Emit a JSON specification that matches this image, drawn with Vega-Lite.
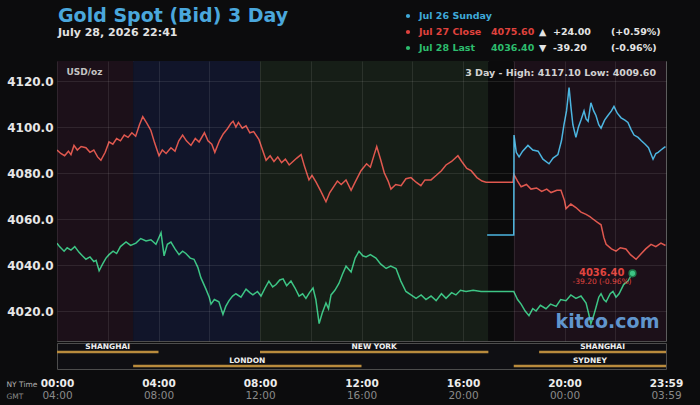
{
  "$schema": "https://vega.github.io/schema/vega-lite/v6.json",
  "background": "#0c0c0d",
  "padding": {"left": 5, "top": 0, "right": 20, "bottom": 5},
  "spacing": 0,
  "config": {
    "font": "DejaVu Sans",
    "view": {"stroke": null},
    "axis": {"labelFont": "DejaVu Sans", "titleFont": "DejaVu Sans"},
    "title": {"font": "DejaVu Sans", "subtitleFont": "DejaVu Sans"}
  },
  "datasets": {
    "prices": [
      {"series":"Jul 27 Close","h":0.00,"v":4090.0},{"series":"Jul 27 Close","h":0.15,"v":4088.5},{"series":"Jul 27 Close","h":0.30,"v":4087.5},{"series":"Jul 27 Close","h":0.45,"v":4089.5},{"series":"Jul 27 Close","h":0.55,"v":4088.0},{"series":"Jul 27 Close","h":0.67,"v":4092.0},{"series":"Jul 27 Close","h":0.80,"v":4090.0},{"series":"Jul 27 Close","h":0.95,"v":4091.5},{"series":"Jul 27 Close","h":1.14,"v":4091.0},{"series":"Jul 27 Close","h":1.30,"v":4089.0},{"series":"Jul 27 Close","h":1.45,"v":4090.0},{"series":"Jul 27 Close","h":1.60,"v":4087.0},{"series":"Jul 27 Close","h":1.73,"v":4085.5},{"series":"Jul 27 Close","h":1.90,"v":4089.0},{"series":"Jul 27 Close","h":2.05,"v":4093.5},{"series":"Jul 27 Close","h":2.20,"v":4092.5},{"series":"Jul 27 Close","h":2.35,"v":4095.0},{"series":"Jul 27 Close","h":2.50,"v":4094.0},{"series":"Jul 27 Close","h":2.65,"v":4096.5},{"series":"Jul 27 Close","h":2.80,"v":4095.5},{"series":"Jul 27 Close","h":2.95,"v":4097.5},{"series":"Jul 27 Close","h":3.10,"v":4096.0},{"series":"Jul 27 Close","h":3.25,"v":4101.0},{"series":"Jul 27 Close","h":3.38,"v":4104.5},{"series":"Jul 27 Close","h":3.55,"v":4101.5},{"series":"Jul 27 Close","h":3.70,"v":4098.5},{"series":"Jul 27 Close","h":3.85,"v":4093.0},{"series":"Jul 27 Close","h":4.02,"v":4087.5},{"series":"Jul 27 Close","h":4.15,"v":4090.0},{"series":"Jul 27 Close","h":4.30,"v":4088.5},{"series":"Jul 27 Close","h":4.49,"v":4091.0},{"series":"Jul 27 Close","h":4.65,"v":4089.5},{"series":"Jul 27 Close","h":4.80,"v":4094.0},{"series":"Jul 27 Close","h":4.95,"v":4096.5},{"series":"Jul 27 Close","h":5.10,"v":4094.0},{"series":"Jul 27 Close","h":5.28,"v":4092.0},{"series":"Jul 27 Close","h":5.45,"v":4095.0},{"series":"Jul 27 Close","h":5.60,"v":4093.5},{"series":"Jul 27 Close","h":5.81,"v":4097.5},{"series":"Jul 27 Close","h":5.95,"v":4094.0},{"series":"Jul 27 Close","h":6.10,"v":4092.5},{"series":"Jul 27 Close","h":6.22,"v":4089.0},{"series":"Jul 27 Close","h":6.40,"v":4094.0},{"series":"Jul 27 Close","h":6.55,"v":4097.0},{"series":"Jul 27 Close","h":6.70,"v":4099.0},{"series":"Jul 27 Close","h":6.85,"v":4101.5},{"series":"Jul 27 Close","h":6.94,"v":4102.5},{"series":"Jul 27 Close","h":7.05,"v":4100.0},{"series":"Jul 27 Close","h":7.15,"v":4102.0},{"series":"Jul 27 Close","h":7.30,"v":4099.5},{"series":"Jul 27 Close","h":7.45,"v":4100.5},{"series":"Jul 27 Close","h":7.60,"v":4097.5},{"series":"Jul 27 Close","h":7.75,"v":4098.0},{"series":"Jul 27 Close","h":7.96,"v":4094.5},{"series":"Jul 27 Close","h":8.10,"v":4090.0},{"series":"Jul 27 Close","h":8.24,"v":4085.5},{"series":"Jul 27 Close","h":8.40,"v":4087.5},{"series":"Jul 27 Close","h":8.55,"v":4085.0},{"series":"Jul 27 Close","h":8.70,"v":4087.0},{"series":"Jul 27 Close","h":8.85,"v":4084.5},{"series":"Jul 27 Close","h":9.00,"v":4086.0},{"series":"Jul 27 Close","h":9.15,"v":4083.5},{"series":"Jul 27 Close","h":9.30,"v":4085.0},{"series":"Jul 27 Close","h":9.45,"v":4086.5},{"series":"Jul 27 Close","h":9.62,"v":4088.0},{"series":"Jul 27 Close","h":9.75,"v":4083.0},{"series":"Jul 27 Close","h":9.93,"v":4077.0},{"series":"Jul 27 Close","h":10.05,"v":4079.0},{"series":"Jul 27 Close","h":10.21,"v":4076.0},{"series":"Jul 27 Close","h":10.40,"v":4072.0},{"series":"Jul 27 Close","h":10.60,"v":4067.5},{"series":"Jul 27 Close","h":10.75,"v":4071.5},{"series":"Jul 27 Close","h":10.90,"v":4074.0},{"series":"Jul 27 Close","h":11.05,"v":4076.5},{"series":"Jul 27 Close","h":11.20,"v":4075.0},{"series":"Jul 27 Close","h":11.39,"v":4077.0},{"series":"Jul 27 Close","h":11.59,"v":4072.5},{"series":"Jul 27 Close","h":11.75,"v":4076.0},{"series":"Jul 27 Close","h":11.98,"v":4081.0},{"series":"Jul 27 Close","h":12.20,"v":4084.0},{"series":"Jul 27 Close","h":12.35,"v":4082.5},{"series":"Jul 27 Close","h":12.50,"v":4088.0},{"series":"Jul 27 Close","h":12.60,"v":4091.5},{"series":"Jul 27 Close","h":12.75,"v":4086.0},{"series":"Jul 27 Close","h":12.90,"v":4080.0},{"series":"Jul 27 Close","h":13.05,"v":4076.5},{"series":"Jul 27 Close","h":13.16,"v":4073.0},{"series":"Jul 27 Close","h":13.35,"v":4075.0},{"series":"Jul 27 Close","h":13.56,"v":4074.5},{"series":"Jul 27 Close","h":13.75,"v":4077.5},{"series":"Jul 27 Close","h":13.95,"v":4078.0},{"series":"Jul 27 Close","h":14.15,"v":4076.0},{"series":"Jul 27 Close","h":14.34,"v":4074.5},{"series":"Jul 27 Close","h":14.50,"v":4077.0},{"series":"Jul 27 Close","h":14.74,"v":4077.0},{"series":"Jul 27 Close","h":14.95,"v":4079.0},{"series":"Jul 27 Close","h":15.15,"v":4081.0},{"series":"Jul 27 Close","h":15.33,"v":4083.5},{"series":"Jul 27 Close","h":15.55,"v":4085.0},{"series":"Jul 27 Close","h":15.80,"v":4087.5},{"series":"Jul 27 Close","h":15.95,"v":4085.0},{"series":"Jul 27 Close","h":16.15,"v":4082.0},{"series":"Jul 27 Close","h":16.32,"v":4081.0},{"series":"Jul 27 Close","h":16.55,"v":4078.0},{"series":"Jul 27 Close","h":16.75,"v":4076.5},{"series":"Jul 27 Close","h":16.91,"v":4076.0},{"series":"Jul 27 Close","h":17.97,"v":4076.0},{"series":"Jul 27 Close","h":18.00,"v":4079.5},{"series":"Jul 27 Close","h":18.15,"v":4076.5},{"series":"Jul 27 Close","h":18.29,"v":4074.0},{"series":"Jul 27 Close","h":18.50,"v":4075.0},{"series":"Jul 27 Close","h":18.68,"v":4073.0},{"series":"Jul 27 Close","h":18.90,"v":4073.5},{"series":"Jul 27 Close","h":19.10,"v":4072.0},{"series":"Jul 27 Close","h":19.30,"v":4073.0},{"series":"Jul 27 Close","h":19.47,"v":4071.5},{"series":"Jul 27 Close","h":19.70,"v":4072.5},{"series":"Jul 27 Close","h":19.86,"v":4072.5},{"series":"Jul 27 Close","h":20.00,"v":4068.0},{"series":"Jul 27 Close","h":20.06,"v":4064.5},{"series":"Jul 27 Close","h":20.25,"v":4066.5},{"series":"Jul 27 Close","h":20.45,"v":4065.0},{"series":"Jul 27 Close","h":20.65,"v":4063.0},{"series":"Jul 27 Close","h":20.85,"v":4062.0},{"series":"Jul 27 Close","h":21.00,"v":4061.0},{"series":"Jul 27 Close","h":21.12,"v":4060.0},{"series":"Jul 27 Close","h":21.30,"v":4058.5},{"series":"Jul 27 Close","h":21.44,"v":4057.5},{"series":"Jul 27 Close","h":21.55,"v":4052.0},{"series":"Jul 27 Close","h":21.64,"v":4049.0},{"series":"Jul 27 Close","h":21.85,"v":4047.0},{"series":"Jul 27 Close","h":22.03,"v":4046.0},{"series":"Jul 27 Close","h":22.20,"v":4047.5},{"series":"Jul 27 Close","h":22.42,"v":4047.0},{"series":"Jul 27 Close","h":22.60,"v":4044.5},{"series":"Jul 27 Close","h":22.82,"v":4042.5},{"series":"Jul 27 Close","h":23.03,"v":4045.0},{"series":"Jul 27 Close","h":23.20,"v":4047.0},{"series":"Jul 27 Close","h":23.41,"v":4049.0},{"series":"Jul 27 Close","h":23.60,"v":4048.0},{"series":"Jul 27 Close","h":23.80,"v":4049.5},{"series":"Jul 27 Close","h":23.98,"v":4048.5},
      {"series":"Jul 28 Last","h":0.00,"v":4049.5},{"series":"Jul 28 Last","h":0.10,"v":4048.0},{"series":"Jul 28 Last","h":0.28,"v":4046.0},{"series":"Jul 28 Last","h":0.40,"v":4047.5},{"series":"Jul 28 Last","h":0.55,"v":4046.5},{"series":"Jul 28 Last","h":0.70,"v":4048.0},{"series":"Jul 28 Last","h":0.87,"v":4045.5},{"series":"Jul 28 Last","h":1.00,"v":4044.0},{"series":"Jul 28 Last","h":1.14,"v":4042.5},{"series":"Jul 28 Last","h":1.30,"v":4043.5},{"series":"Jul 28 Last","h":1.45,"v":4041.5},{"series":"Jul 28 Last","h":1.54,"v":4042.0},{"series":"Jul 28 Last","h":1.66,"v":4037.5},{"series":"Jul 28 Last","h":1.80,"v":4040.5},{"series":"Jul 28 Last","h":1.93,"v":4043.0},{"series":"Jul 28 Last","h":2.05,"v":4044.5},{"series":"Jul 28 Last","h":2.21,"v":4046.0},{"series":"Jul 28 Last","h":2.35,"v":4045.0},{"series":"Jul 28 Last","h":2.50,"v":4048.0},{"series":"Jul 28 Last","h":2.72,"v":4050.0},{"series":"Jul 28 Last","h":2.90,"v":4048.5},{"series":"Jul 28 Last","h":3.11,"v":4049.5},{"series":"Jul 28 Last","h":3.30,"v":4051.5},{"series":"Jul 28 Last","h":3.51,"v":4050.5},{"series":"Jul 28 Last","h":3.70,"v":4051.0},{"series":"Jul 28 Last","h":3.90,"v":4049.0},{"series":"Jul 28 Last","h":4.10,"v":4054.0},{"series":"Jul 28 Last","h":4.22,"v":4044.0},{"series":"Jul 28 Last","h":4.35,"v":4049.0},{"series":"Jul 28 Last","h":4.49,"v":4050.0},{"series":"Jul 28 Last","h":4.65,"v":4047.0},{"series":"Jul 28 Last","h":4.81,"v":4044.5},{"series":"Jul 28 Last","h":4.95,"v":4046.0},{"series":"Jul 28 Last","h":5.08,"v":4045.0},{"series":"Jul 28 Last","h":5.25,"v":4043.0},{"series":"Jul 28 Last","h":5.40,"v":4042.5},{"series":"Jul 28 Last","h":5.55,"v":4039.0},{"series":"Jul 28 Last","h":5.67,"v":4034.5},{"series":"Jul 28 Last","h":5.87,"v":4029.5},{"series":"Jul 28 Last","h":6.00,"v":4026.0},{"series":"Jul 28 Last","h":6.07,"v":4023.0},{"series":"Jul 28 Last","h":6.20,"v":4025.0},{"series":"Jul 28 Last","h":6.38,"v":4024.0},{"series":"Jul 28 Last","h":6.54,"v":4018.5},{"series":"Jul 28 Last","h":6.65,"v":4022.0},{"series":"Jul 28 Last","h":6.78,"v":4024.5},{"series":"Jul 28 Last","h":6.92,"v":4026.5},{"series":"Jul 28 Last","h":7.05,"v":4027.5},{"series":"Jul 28 Last","h":7.25,"v":4026.0},{"series":"Jul 28 Last","h":7.45,"v":4029.5},{"series":"Jul 28 Last","h":7.60,"v":4028.0},{"series":"Jul 28 Last","h":7.72,"v":4027.0},{"series":"Jul 28 Last","h":7.90,"v":4028.5},{"series":"Jul 28 Last","h":8.04,"v":4026.5},{"series":"Jul 28 Last","h":8.20,"v":4030.0},{"series":"Jul 28 Last","h":8.35,"v":4033.0},{"series":"Jul 28 Last","h":8.50,"v":4030.5},{"series":"Jul 28 Last","h":8.63,"v":4031.5},{"series":"Jul 28 Last","h":8.78,"v":4033.5},{"series":"Jul 28 Last","h":8.91,"v":4034.0},{"series":"Jul 28 Last","h":9.05,"v":4031.0},{"series":"Jul 28 Last","h":9.22,"v":4033.0},{"series":"Jul 28 Last","h":9.38,"v":4030.0},{"series":"Jul 28 Last","h":9.54,"v":4026.5},{"series":"Jul 28 Last","h":9.68,"v":4027.5},{"series":"Jul 28 Last","h":9.81,"v":4025.5},{"series":"Jul 28 Last","h":9.95,"v":4028.0},{"series":"Jul 28 Last","h":10.09,"v":4030.0},{"series":"Jul 28 Last","h":10.20,"v":4025.0},{"series":"Jul 28 Last","h":10.33,"v":4014.5},{"series":"Jul 28 Last","h":10.45,"v":4019.0},{"series":"Jul 28 Last","h":10.60,"v":4023.5},{"series":"Jul 28 Last","h":10.70,"v":4021.0},{"series":"Jul 28 Last","h":10.80,"v":4027.0},{"series":"Jul 28 Last","h":10.95,"v":4029.0},{"series":"Jul 28 Last","h":11.11,"v":4032.0},{"series":"Jul 28 Last","h":11.25,"v":4036.0},{"series":"Jul 28 Last","h":11.39,"v":4039.5},{"series":"Jul 28 Last","h":11.59,"v":4037.0},{"series":"Jul 28 Last","h":11.75,"v":4043.0},{"series":"Jul 28 Last","h":11.90,"v":4046.0},{"series":"Jul 28 Last","h":12.05,"v":4044.0},{"series":"Jul 28 Last","h":12.18,"v":4043.5},{"series":"Jul 28 Last","h":12.35,"v":4044.5},{"series":"Jul 28 Last","h":12.57,"v":4043.0},{"series":"Jul 28 Last","h":12.75,"v":4040.5},{"series":"Jul 28 Last","h":12.97,"v":4038.5},{"series":"Jul 28 Last","h":13.15,"v":4039.5},{"series":"Jul 28 Last","h":13.36,"v":4038.5},{"series":"Jul 28 Last","h":13.55,"v":4033.0},{"series":"Jul 28 Last","h":13.75,"v":4028.5},{"series":"Jul 28 Last","h":13.95,"v":4027.0},{"series":"Jul 28 Last","h":14.15,"v":4025.5},{"series":"Jul 28 Last","h":14.35,"v":4027.0},{"series":"Jul 28 Last","h":14.54,"v":4025.0},{"series":"Jul 28 Last","h":14.74,"v":4026.5},{"series":"Jul 28 Last","h":14.94,"v":4024.5},{"series":"Jul 28 Last","h":15.15,"v":4027.5},{"series":"Jul 28 Last","h":15.33,"v":4025.5},{"series":"Jul 28 Last","h":15.55,"v":4028.0},{"series":"Jul 28 Last","h":15.72,"v":4027.0},{"series":"Jul 28 Last","h":15.90,"v":4029.0},{"series":"Jul 28 Last","h":16.12,"v":4028.5},{"series":"Jul 28 Last","h":16.40,"v":4029.0},{"series":"Jul 28 Last","h":16.71,"v":4028.5},{"series":"Jul 28 Last","h":18.00,"v":4028.5},{"series":"Jul 28 Last","h":18.15,"v":4025.0},{"series":"Jul 28 Last","h":18.29,"v":4023.0},{"series":"Jul 28 Last","h":18.45,"v":4020.0},{"series":"Jul 28 Last","h":18.60,"v":4018.0},{"series":"Jul 28 Last","h":18.75,"v":4021.0},{"series":"Jul 28 Last","h":18.88,"v":4020.0},{"series":"Jul 28 Last","h":19.05,"v":4022.5},{"series":"Jul 28 Last","h":19.27,"v":4021.0},{"series":"Jul 28 Last","h":19.45,"v":4023.0},{"series":"Jul 28 Last","h":19.67,"v":4022.0},{"series":"Jul 28 Last","h":19.85,"v":4025.0},{"series":"Jul 28 Last","h":20.06,"v":4024.5},{"series":"Jul 28 Last","h":20.25,"v":4027.0},{"series":"Jul 28 Last","h":20.45,"v":4025.5},{"series":"Jul 28 Last","h":20.65,"v":4026.5},{"series":"Jul 28 Last","h":20.85,"v":4023.5},{"series":"Jul 28 Last","h":20.95,"v":4019.0},{"series":"Jul 28 Last","h":21.04,"v":4014.5},{"series":"Jul 28 Last","h":21.15,"v":4018.0},{"series":"Jul 28 Last","h":21.24,"v":4021.5},{"series":"Jul 28 Last","h":21.35,"v":4026.0},{"series":"Jul 28 Last","h":21.44,"v":4027.5},{"series":"Jul 28 Last","h":21.55,"v":4025.0},{"series":"Jul 28 Last","h":21.64,"v":4024.0},{"series":"Jul 28 Last","h":21.80,"v":4027.5},{"series":"Jul 28 Last","h":21.91,"v":4028.5},{"series":"Jul 28 Last","h":22.03,"v":4026.0},{"series":"Jul 28 Last","h":22.15,"v":4027.5},{"series":"Jul 28 Last","h":22.33,"v":4031.5},{"series":"Jul 28 Last","h":22.50,"v":4033.0},{"series":"Jul 28 Last","h":22.60,"v":4035.0},{"series":"Jul 28 Last","h":22.68,"v":4036.4},
      {"series":"Jul 26 Sunday","h":16.95,"v":4053.0},{"series":"Jul 26 Sunday","h":18.00,"v":4053.0},{"series":"Jul 26 Sunday","h":18.01,"v":4096.5},{"series":"Jul 26 Sunday","h":18.10,"v":4089.0},{"series":"Jul 26 Sunday","h":18.21,"v":4087.0},{"series":"Jul 26 Sunday","h":18.35,"v":4089.5},{"series":"Jul 26 Sunday","h":18.56,"v":4092.0},{"series":"Jul 26 Sunday","h":18.75,"v":4090.0},{"series":"Jul 26 Sunday","h":18.96,"v":4089.5},{"series":"Jul 26 Sunday","h":19.15,"v":4086.0},{"series":"Jul 26 Sunday","h":19.39,"v":4084.0},{"series":"Jul 26 Sunday","h":19.55,"v":4086.5},{"series":"Jul 26 Sunday","h":19.74,"v":4088.0},{"series":"Jul 26 Sunday","h":19.88,"v":4094.0},{"series":"Jul 26 Sunday","h":19.98,"v":4101.0},{"series":"Jul 26 Sunday","h":20.08,"v":4107.0},{"series":"Jul 26 Sunday","h":20.18,"v":4117.1},{"series":"Jul 26 Sunday","h":20.26,"v":4108.0},{"series":"Jul 26 Sunday","h":20.33,"v":4101.0},{"series":"Jul 26 Sunday","h":20.45,"v":4095.5},{"series":"Jul 26 Sunday","h":20.55,"v":4100.0},{"series":"Jul 26 Sunday","h":20.65,"v":4103.0},{"series":"Jul 26 Sunday","h":20.77,"v":4107.0},{"series":"Jul 26 Sunday","h":20.85,"v":4103.5},{"series":"Jul 26 Sunday","h":20.93,"v":4102.5},{"series":"Jul 26 Sunday","h":21.04,"v":4110.5},{"series":"Jul 26 Sunday","h":21.15,"v":4107.0},{"series":"Jul 26 Sunday","h":21.24,"v":4105.0},{"series":"Jul 26 Sunday","h":21.35,"v":4101.0},{"series":"Jul 26 Sunday","h":21.44,"v":4099.5},{"series":"Jul 26 Sunday","h":21.58,"v":4103.0},{"series":"Jul 26 Sunday","h":21.71,"v":4105.0},{"series":"Jul 26 Sunday","h":21.85,"v":4107.0},{"series":"Jul 26 Sunday","h":21.95,"v":4109.0},{"series":"Jul 26 Sunday","h":22.08,"v":4106.0},{"series":"Jul 26 Sunday","h":22.23,"v":4104.0},{"series":"Jul 26 Sunday","h":22.38,"v":4103.0},{"series":"Jul 26 Sunday","h":22.50,"v":4102.0},{"series":"Jul 26 Sunday","h":22.62,"v":4099.0},{"series":"Jul 26 Sunday","h":22.74,"v":4096.5},{"series":"Jul 26 Sunday","h":22.90,"v":4095.5},{"series":"Jul 26 Sunday","h":23.03,"v":4094.0},{"series":"Jul 26 Sunday","h":23.18,"v":4092.5},{"series":"Jul 26 Sunday","h":23.31,"v":4091.0},{"series":"Jul 26 Sunday","h":23.49,"v":4086.0},{"series":"Jul 26 Sunday","h":23.60,"v":4088.5},{"series":"Jul 26 Sunday","h":23.69,"v":4089.0},{"series":"Jul 26 Sunday","h":23.80,"v":4090.0},{"series":"Jul 26 Sunday","h":23.92,"v":4091.0},{"series":"Jul 26 Sunday","h":23.98,"v":4091.5}
    ],
    "bands": [
      {"zone":"Asia","start":0,"end":3},
      {"zone":"London","start":3,"end":8},
      {"zone":"New York","start":8,"end":17},
      {"zone":"Closed","start":17,"end":18},
      {"zone":"Asia","start":18,"end":24}
    ],
    "sessions": [
      {"session":"SHANGHAI","start":0,"end":4,"lane":1},
      {"session":"LONDON","start":3,"end":12,"lane":2},
      {"session":"NEW YORK","start":8,"end":17,"lane":1},
      {"session":"SHANGHAI","start":19,"end":24,"lane":1},
      {"session":"SYDNEY","start":18,"end":24,"lane":2}
    ],
    "legendCells": [
      {"series":"Jul 26 Sunday","col":"name","text":"Jul 26 Sunday"},
      {"series":"Jul 27 Close","col":"name","text":"Jul 27 Close"},
      {"series":"Jul 27 Close","col":"close","text":"4075.60"},
      {"series":"Jul 27 Close","col":"chg","text":"▲\u00a0\u00a0+24.00"},
      {"series":"Jul 27 Close","col":"pct","text":"(+0.59%)"},
      {"series":"Jul 28 Last","col":"name","text":"Jul 28 Last"},
      {"series":"Jul 28 Last","col":"close","text":"4036.40"},
      {"series":"Jul 28 Last","col":"chg","text":"▼\u00a0\u00a0-39.20"},
      {"series":"Jul 28 Last","col":"pct","text":"(-0.96%)"}
    ],
    "last": [
      {"series":"Jul 28 Last","h":22.68,"v":4036.4,"label":"4036.40","change":"-39.20 (-0.96%)"}
    ]
  },
  "vconcat": [
    {
      "width": 609,
      "height": 60,
      "title": {
        "text": "Gold Spot (Bid) 3 Day",
        "subtitle": "July 28, 2026 22:41",
        "anchor": "start",
        "orient": "top",
        "frame": "group",
        "offset": -38,
        "dx": 1,
        "fontSize": 19,
        "fontWeight": "bold",
        "color": "#4aa7dc",
        "subtitleFontSize": 11,
        "subtitleFontWeight": "bold",
        "subtitleColor": "#e2e2e2",
        "subtitlePadding": 1
      },
      "layer": [
        {
          "data": {"name": "legendCells"},
          "transform": [{"filter": "datum.col === 'name'"}],
          "mark": {"type": "point", "shape": "circle", "filled": true, "size": 18, "opacity": 1, "xOffset": -11},
          "encoding": {
            "x": {"field": "col", "type": "ordinal", "scale": {"type": "point", "domain": ["name", "s1", "s2", "close", "s3", "chg", "s4", "s5", "pct"], "range": [362, 554], "padding": 0}, "axis": null},
            "y": {"field": "series", "type": "ordinal", "scale": {"type": "point", "domain": ["Jul 26 Sunday", "Jul 27 Close", "Jul 28 Last"], "range": [16, 48], "padding": 0}, "axis": null},
            "color": {"field": "series", "type": "nominal", "scale": {"domain": ["Jul 26 Sunday", "Jul 27 Close", "Jul 28 Last"], "range": ["#3fa9d8", "#e0423d", "#2dbd6e"]}, "legend": null}
          }
        },
        {
          "data": {"name": "legendCells"},
          "mark": {"type": "text", "align": "left", "baseline": "middle", "fontSize": 9.5, "fontWeight": "bold"},
          "encoding": {
            "x": {"field": "col", "type": "ordinal", "axis": null},
            "y": {"field": "series", "type": "ordinal", "axis": null},
            "text": {"field": "text"},
            "color": {
              "condition": {"test": "datum.col === 'name' || datum.col === 'close'", "field": "series", "type": "nominal", "legend": null},
              "value": "#e4e4e4"
            }
          }
        }
      ]
    },
    {
      "width": 609,
      "height": 280,
      "view": {"stroke": "#4d4d4d", "strokeWidth": 1},
      "resolve": {"scale": {"color": "independent"}},
      "title": {
        "text": "3 Day - High: 4117.10  Low: 4009.60",
        "anchor": "end",
        "orient": "top",
        "offset": -16,
        "dx": -10,
        "fontSize": 9.5,
        "fontWeight": "bold",
        "color": "#d2d2d2"
      },
      "layer": [
        {
          "data": {"name": "bands"},
          "mark": {"type": "rect"},
          "encoding": {
            "x": {
              "field": "start", "type": "quantitative",
              "scale": {"domain": [0, 24], "nice": false, "zero": false},
              "axis": {
                "values": [0, 2, 4, 6, 8, 10, 12, 14, 16, 18, 20, 22, 24],
                "labels": false, "ticks": false, "domain": false,
                "grid": true, "gridColor": "#ffffff", "gridOpacity": 0.09, "gridWidth": 1,
                "zindex": 1,
                "title": "kitco.com",
                "titleX": 550, "titleY": -20, "titleAlign": "center", "titleBaseline": "middle",
                "titleFontSize": 19, "titleFontWeight": "bold", "titleColor": "#6aa8e6", "titleOpacity": 0.9
              }
            },
            "x2": {"field": "end"},
            "color": {"field": "zone", "type": "nominal", "scale": {"domain": ["Asia", "London", "New York", "Closed"], "range": ["#1c1019", "#11152a", "#161e17", "#0b0b0c"]}, "legend": null}
          }
        },
        {
          "data": {"name": "prices"},
          "mark": {"type": "line", "strokeWidth": 1.5, "clip": true, "interpolate": "linear"},
          "encoding": {
            "x": {"field": "h", "type": "quantitative"},
            "y": {
              "field": "v", "type": "quantitative",
              "scale": {"domain": [4006.96, 4128.7], "nice": false, "zero": false},
              "axis": {
                "values": [4020, 4040, 4060, 4080, 4100, 4120],
                "format": ".1f",
                "labelFontSize": 12, "labelFontWeight": "bold", "labelColor": "#e6e6e6", "labelPadding": 4,
                "ticks": false, "domain": false,
                "grid": true, "gridColor": "#ffffff", "gridOpacity": 0.09,
                "zindex": 1,
                "title": "USD/oz", "titleAngle": 0, "titleAlign": "left", "titleBaseline": "top",
                "titleX": 9, "titleY": 6, "titleFontSize": 9, "titleFontWeight": "bold", "titleColor": "#c4c4c4"
              }
            },
            "color": {"field": "series", "type": "nominal", "scale": {"domain": ["Jul 26 Sunday", "Jul 27 Close", "Jul 28 Last"], "range": ["#4cb5e0", "#e0584f", "#3dc585"]}, "legend": null}
          }
        },
        {
          "data": {"name": "last"},
          "mark": {"type": "point", "shape": "circle", "filled": true, "size": 45, "opacity": 1, "stroke": "#1f7a4a", "strokeWidth": 1.5, "fill": "#3dc585"},
          "encoding": {
            "x": {"field": "h", "type": "quantitative"},
            "y": {"field": "v", "type": "quantitative"}
          }
        },
        {
          "data": {"name": "last"},
          "mark": {"type": "text", "align": "right", "baseline": "middle", "dx": -8, "dy": 0, "fontSize": 10, "fontWeight": "bold", "fill": "#e0453f"},
          "encoding": {
            "x": {"field": "h", "type": "quantitative"},
            "y": {"field": "v", "type": "quantitative"},
            "text": {"field": "label"}
          }
        },
        {
          "data": {"name": "last"},
          "mark": {"type": "text", "align": "right", "baseline": "middle", "dx": -1, "dy": 9, "fontSize": 7.5, "fill": "#e0453f"},
          "encoding": {
            "x": {"field": "h", "type": "quantitative"},
            "y": {"field": "v", "type": "quantitative"},
            "text": {"field": "change"}
          }
        }
      ]
    },
    {
      "width": 609,
      "height": 26,
      "view": {"stroke": "#4d4d4d", "strokeWidth": 1, "fill": "#0f0f13"},
      "resolve": {"scale": {"x": "independent"}, "axis": {"x": "independent"}},
      "layer": [
        {
          "data": {"name": "sessions"},
          "mark": {"type": "rule", "strokeWidth": 2.5, "color": "#b98b3d"},
          "encoding": {
            "x": {
              "field": "start", "type": "quantitative",
              "scale": {"domain": [0, 24], "nice": false, "zero": false},
              "axis": {
                "orient": "bottom", "offset": 0,
                "values": [0, 4, 8, 12, 16, 20, 24],
                "labelExpr": "datum.value == 24 ? '23:59' : (datum.value < 10 ? '0' : '') + datum.value + ':00'",
                "labelFontSize": 10.5, "labelFontWeight": "bold", "labelColor": "#ececec",
                "labelPadding": 9, "labelOverlap": false, "labelFlush": false, "labelBound": false,
                "ticks": false, "domain": false, "grid": false,
                "title": "NY Time", "titleX": -51, "titleY": 11, "titleAlign": "left", "titleBaseline": "top",
                "titleFontSize": 7.5, "titleFontWeight": "normal", "titleColor": "#b0b0b0"
              }
            },
            "x2": {"field": "end"},
            "y": {"field": "lane", "type": "ordinal", "scale": {"type": "point", "domain": [1, 2], "range": [9, 23], "padding": 0}, "axis": null}
          }
        },
        {
          "data": {"name": "sessions"},
          "transform": [{"calculate": "(datum.start + datum.end) / 2", "as": "mid"}],
          "mark": {"type": "text", "baseline": "bottom", "dy": -1, "fontSize": 7.5, "fontWeight": "bold", "color": "#f0f0f0"},
          "encoding": {
            "x": {
              "field": "mid", "type": "quantitative",
              "scale": {"domain": [0, 24], "nice": false, "zero": false},
              "axis": {
                "orient": "bottom", "offset": 12,
                "values": [0, 4, 8, 12, 16, 20, 24],
                "labelExpr": "datum.value == 24 ? '03:59' : ((datum.value + 4) % 24 < 10 ? '0' : '') + ((datum.value + 4) % 24) + ':00'",
                "labelFontSize": 10.5, "labelFontWeight": "normal", "labelColor": "#8a8a8a",
                "labelPadding": 9, "labelOverlap": false, "labelFlush": false, "labelBound": false,
                "ticks": false, "domain": false, "grid": false,
                "title": "GMT", "titleX": -51, "titleY": 11, "titleAlign": "left", "titleBaseline": "top",
                "titleFontSize": 7.5, "titleFontWeight": "normal", "titleColor": "#8a8a8a"
              }
            },
            "y": {"field": "lane", "type": "ordinal"},
            "text": {"field": "session"}
          }
        }
      ]
    }
  ]
}
